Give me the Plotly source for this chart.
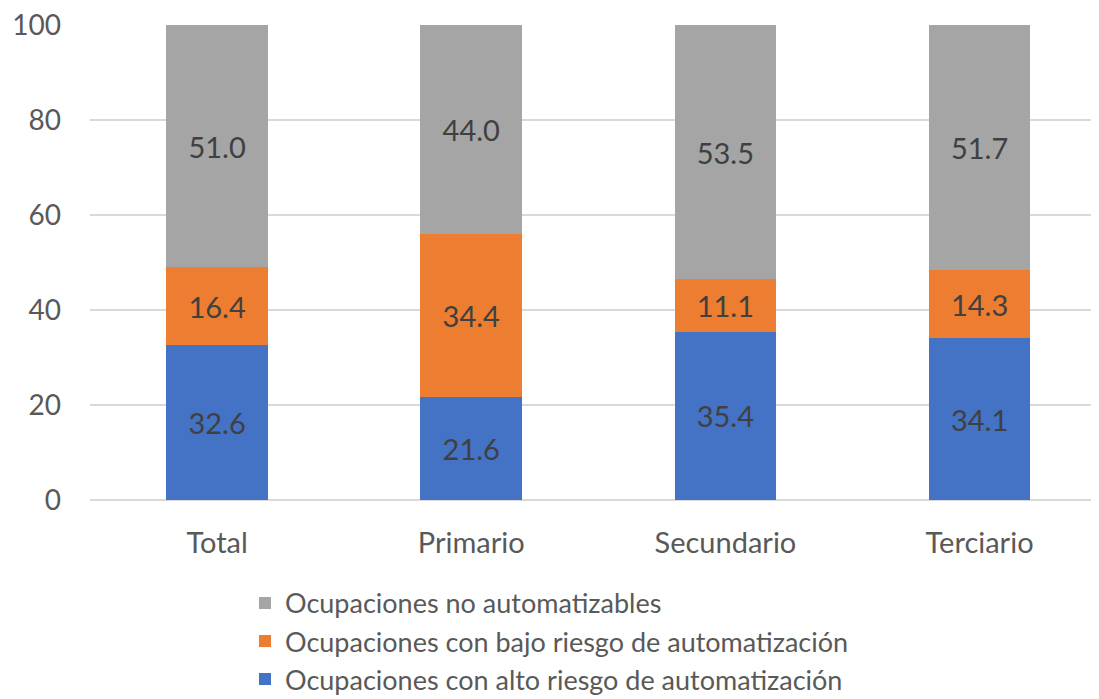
import plotly.graph_objects as go

categories = ["Total", "Primario", "Secundario", "Terciario"]
alto = [32.6, 21.6, 35.4, 34.1]
bajo = [16.4, 34.4, 11.1, 14.3]
no_auto = [51.0, 44.0, 53.5, 51.7]

names = [
    "Ocupaciones con alto riesgo de automatización",
    "Ocupaciones con bajo riesgo de automatización",
    "Ocupaciones no automatizables",
]
colors = ["#4472C4", "#ED7D31", "#A5A5A5"]
series = [alto, bajo, no_auto]
ranks = [3, 2, 1]

FONT = "Lato, Carlito, Calibri, sans-serif"
FS = 29

fig = go.Figure()
for i, (name, vals, col) in enumerate(zip(names, series, colors)):
    fig.add_trace(go.Bar(
        x=categories, y=vals, name=name, marker=dict(color=col, line=dict(width=0)),
        text=[f"{v:.1f}" for v in vals], textposition="inside",
        insidetextanchor="middle", textangle=0,
        textfont=dict(color="#404040", size=FS, family=FONT),
        legendgroup=f"g{i}", legendrank=ranks[i],
    ))

fig.update_layout(
    barmode="stack", bargap=0.6,
    width=1099, height=699,
    margin=dict(l=82, r=8, t=17, b=207, autoexpand=False),
    plot_bgcolor="white", paper_bgcolor="white",
    font=dict(family=FONT, color="#595959", size=FS),
    xaxis=dict(range=[-0.5, 3.47], showgrid=False, showline=False, ticks="",
               tickfont=dict(size=FS, color="#595959"), ticklabelstandoff=23),
    yaxis=dict(range=[0, 100], tickvals=[0, 20, 40, 60, 80, 100], showgrid=True,
               gridcolor="#D9D9D9", gridwidth=1.5,
               zeroline=True, zerolinecolor="#D9D9D9", zerolinewidth=1.5,
               showline=False, ticks="", tickfont=dict(size=28, color="#595959"),
               ticklabelstandoff=28, ticklabeloverflow="allow"),
    legend=dict(orientation="v", traceorder="normal", x=0.1536, xanchor="left",
                y=-0.166, yanchor="top", font=dict(size=27, color="#595959"),
                tracegroupgap=0, itemwidth=30),
    showlegend=True,
)

fig.write_html("out.html")
